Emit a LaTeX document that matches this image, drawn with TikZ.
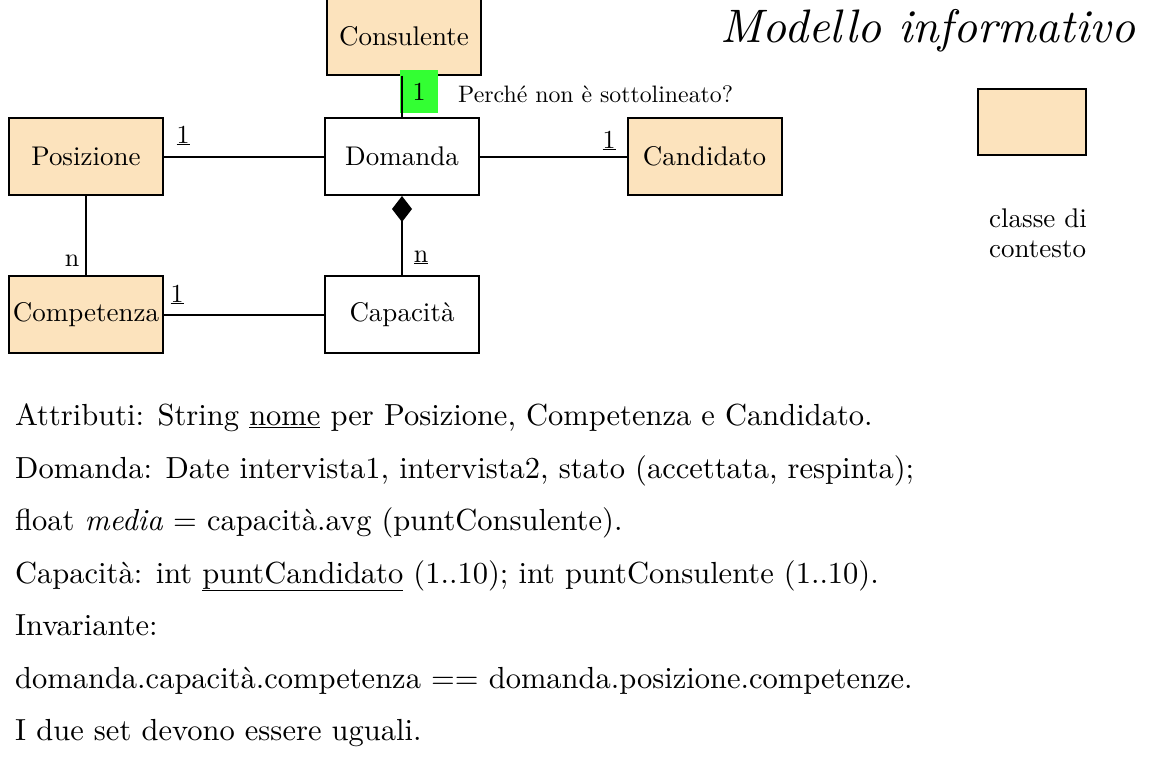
\documentclass[tikz,border=0pt]{standalone}
\usepackage{fontspec}
% 10pt design size of Latin Modern at every size
\setmainfont{lmroman10-regular}[Extension=.otf,
  ItalicFont=lmroman10-italic, BoldFont=lmroman10-bold]
\usetikzlibrary{arrows.meta}
\definecolor{ctxfill}{RGB}{252,227,189}
\definecolor{notegreen}{RGB}{51,255,51}
\begin{document}
\begin{tikzpicture}[x=1pt,y=-1pt,
  box/.style={draw, line width=2pt, minimum width=154pt, minimum height=77pt,
    inner sep=0pt, font=\fontsize{27}{32}\selectfont},
  ctx/.style={box, fill=ctxfill},
  cls/.style={box, fill=white},
  mult/.style={anchor=base, inner sep=0pt, font=\fontsize{26}{30}\selectfont},
  note/.style={anchor=base west, inner sep=0pt, font=\fontsize{23.8}{28}\selectfont},
  body/.style={anchor=base west, inner sep=0pt, font=\fontsize{30.5}{36}\selectfont},
  link/.style={line width=2pt}]
\useasboundingbox (0,0) rectangle (1156,766);
\clip (0,0) rectangle (1156,766);

% title
\node[anchor=base west, inner sep=0pt, font=\fontsize{47}{52}\selectfont\itshape]
  (title) at (720,42) {Modello informativo};

% classes
\node[ctx] (cons) at (404,36)    {Consulente};
\node[ctx] (pos)  at (86,156.5)  {Posizione};
\node[cls] (dom)  at (402,156.5) {Domanda};
\node[ctx] (cand) at (704.5,156.5) {Candidato};
\node[ctx] (comp) at (86,314.5)  {Competenza};
\node[cls] (cap)  at (402,314.5) {Capacità};

% legend
\node[box, fill=ctxfill, minimum width=108pt, minimum height=66pt] (leg) at (1032,122) {};
\node[anchor=base west, inner sep=0pt, align=left, font=\fontsize{27}{30}\selectfont]
  (legtxt) at (989,257) {classe di\\contesto};

% highlighted multiplicity with remark
\node[fill=notegreen, minimum width=38pt, minimum height=43pt, inner sep=0pt,
  font=\fontsize{26}{30}\selectfont] (g1) at (419,91.5) {1};
\node[note] (why) at (458,102) {Perché non è sottolineato?};

% associations
\draw[link] (dom.north |- cons.south) -- (dom.north);
\draw[link] (pos) -- (dom);
\draw[link] (dom) -- (cand);
\draw[link] (pos) -- (comp);
\draw[link] (comp) -- (cap);
\draw[link, -{Diamond[length=26pt, width=20pt]}] (cap) -- (dom);

% multiplicities
\node[mult] (m1) at (183,143) {\underline{1}};
\node[mult] (m2) at (609,148) {\underline{1}};
\node[mult] (m3) at (177,302) {\underline{1}};
\node[mult] (m4) at (72,266)  {n};
\node[mult] (m5) at (421,262) {\underline{n}};

% attributes and invariant
\node[body] (t1) at (15,425) {Attributi: String \underline{nome} per Posizione, Competenza e Candidato.};
\node[body] (t2) at (15,478) {Domanda: Date intervista1, intervista2, stato (accettata, respinta);};
\node[body] (t3) at (15,530) {float \textit{media} = capacità.avg (puntConsulente).};
\node[body] (t4) at (15,583) {Capacità: int \underline{puntCandidato} (1..10); int puntConsulente (1..10).};
\node[body] (t5) at (15,635) {Invariante:};
\node[body] (t6) at (15,688) {domanda.capacità.competenza == domanda.posizione.competenze.};
\node[body] (t7) at (15,740) {I due set devono essere uguali.};
\end{tikzpicture}
\end{document}
